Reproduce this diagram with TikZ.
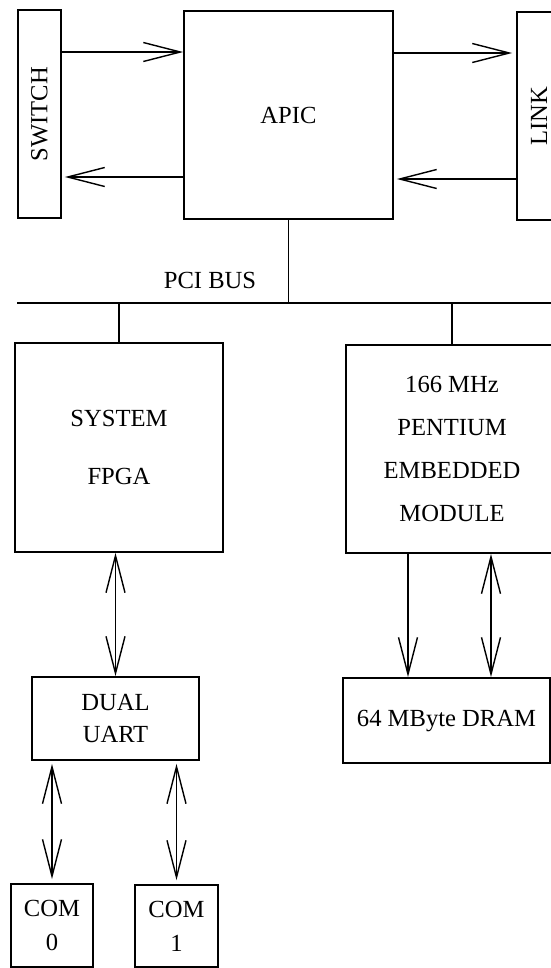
\documentclass[tikz,border=0pt]{standalone}
\usepackage{fontspec}
\setmainfont{Liberation Serif}
\usetikzlibrary{arrows.meta}
\tikzset{
  blk/.style={draw,line width=1pt,inner sep=0pt,align=center},
  lsp/.style={font=\fontsize{14pt}{#1}\selectfont},
  busline/.style={line width=1pt},
  sig/.style={line width=0.8pt,-{Straight Barb[length=7.4mm,width=3.8mm]}},
  bidi/.style={line width=0.8pt,{Straight Barb[length=7.4mm,width=3.8mm]}-{Straight Barb[length=7.4mm,width=3.8mm]}},
}
\begin{document}
\begin{tikzpicture}[x=0.02cm,y=-0.02cm,every node/.style={font=\fontsize{14pt}{17pt}\selectfont}]
\useasboundingbox (0,0) rectangle (551,968);
% top row
\node[blk,rotate=90,minimum width=4.16cm,minimum height=0.86cm] (switch) at (39.5,114) {SWITCH};
\node[blk,minimum width=4.18cm,minimum height=4.16cm] (apic) at (288.5,115) {APIC};
\node[blk,rotate=90,minimum width=4.16cm,minimum height=0.88cm] (link) at (539,116) {LINK};
% bus
\node (pcilbl) at (210,280) {PCI BUS};
\coordinate (busL) at (17,303);
\coordinate (busR) at (560,303);
% boards
\node[blk,lsp=33pt,minimum width=4.16cm,minimum height=4.18cm] (fpga) at (119,447.5) {SYSTEM\\FPGA};
\node[blk,lsp=24.4pt,minimum width=4.24cm,minimum height=4.16cm] (cpu) at (452,449) {166 MHz\\PENTIUM\\EMBEDDED\\MODULE};
\node[blk,lsp=18.7pt,minimum width=3.34cm,minimum height=1.66cm] (uart) at (115.5,718.5) {DUAL\\UART};
\node[blk,minimum width=4.14cm,minimum height=1.70cm] (dram) at (446.5,720.5) {64 MByte DRAM};
\node[blk,lsp=19.3pt,minimum width=1.64cm,minimum height=1.66cm] (com0) at (52,925.5) {COM\\0};
\node[blk,lsp=19.3pt,minimum width=1.66cm,minimum height=1.64cm] (com1) at (176.5,926) {COM\\1};
% links
\draw[sig] (switch.south |- 0,52) -- (apic.west |- 0,52);
\draw[sig,shorten >=0.06cm] (apic.west |- 0,177) -- (switch.south |- 0,177);
\draw[sig,shorten >=0.08cm] (apic.east |- 0,53) -- (link.north |- 0,53);
\draw[sig,shorten >=0.06cm] (link.north |- 0,179) -- (apic.east |- 0,179);
\draw[busline] (busL) -- (busR);
\draw[busline] (apic.south) -- (apic.south |- busL);
\draw[busline] (fpga.north |- busL) -- (fpga.north);
\draw[busline] (cpu.north |- busL) -- (cpu.north);
\draw[bidi] (fpga.south -| uart.north) -- (uart.north);
\draw[bidi,shorten <=0.06cm,shorten >=0.08cm] (com0.north |- uart.south) -- (com0.north);
\draw[bidi,shorten <=0.06cm,shorten >=0.08cm] (com1.north |- uart.south) -- (com1.north);
\draw[sig] (cpu.south -| 408,0) -- (dram.north -| 408,0);
\draw[bidi] (cpu.south -| 491,0) -- (dram.north -| 491,0);
\end{tikzpicture}
\end{document}
